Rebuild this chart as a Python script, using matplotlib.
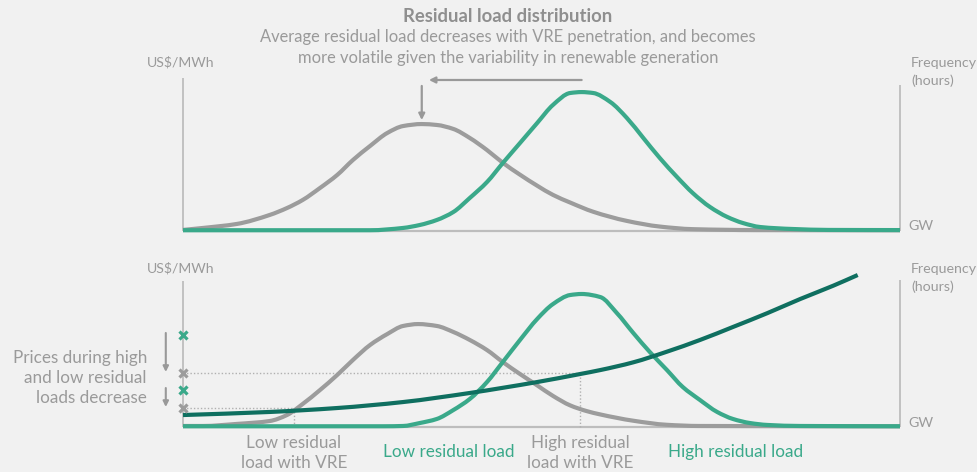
import matplotlib
matplotlib.use("Agg")
import matplotlib.pyplot as plt
from matplotlib.path import Path
from matplotlib.patches import PathPatch

plt.rcParams['font.family'] = ['Lato', 'DejaVu Sans']

# ---------------- data (arbitrary units: GW 0-100, frequency/price 0-100) -------------
# Top panel: residual load distributions
top_gray_x = [0, 2.8, 7.5, 12.1, 14.5, 16.7, 19.1, 21.5, 23.7, 26.1, 28.5, 30.7, 33.3, 35.4,
              37.7, 40.0, 42.4, 44.6, 47.0, 49.4, 51.6, 54.0, 57.2, 61.9, 66.5, 71.1, 80.0, 100]
top_gray_y = [0.7, 2.0, 4.6, 10.5, 15.0, 20.3, 28.1, 36.6, 46.4, 55.6, 64.1, 68.6, 69.9, 69.3,
              66.7, 60.8, 52.9, 44.6, 36.8, 29.6, 23.6, 18.6, 12.6, 6.6, 2.9, 1.2, 0.6, 0.5]
top_green_x = [0, 26.1, 30.7, 33.0, 35.4, 37.7, 40.0, 42.4, 44.6, 47.0, 49.4, 51.6, 54.0, 55.6,
               57.2, 59.6, 61.9, 64.2, 66.5, 68.9, 71.1, 73.5, 75.9, 78.1, 80.5, 85.1, 90.0, 100]
top_green_y = [0.5, 0.5, 2.0, 3.9, 7.2, 12.4, 21.6, 32.0, 44.4, 57.5, 70.6, 82.4, 90.2, 90.8,
               90.2, 84.3, 73.9, 60.8, 47.7, 35.3, 24.8, 15.7, 9.2, 5.2, 2.6, 1.3, 0.7, 0.6]

# Bottom panel: distributions + price (merit order) curve
bot_gray_x = [0, 2.8, 7.5, 12.1, 14.5, 16.7, 19.1, 21.5, 23.7, 26.1, 28.5, 30.7, 32.8, 35.4,
              37.7, 40.0, 42.4, 44.6, 47.0, 49.4, 51.6, 54.0, 56.3, 58.2, 62.8, 67.5, 72.0, 100]
bot_gray_y = [0.7, 0.7, 2.1, 4.1, 8.2, 15.8, 25.3, 35.6, 45.9, 56.2, 63.7, 69.2, 70.5, 69.2,
              65.1, 59.6, 52.7, 44.5, 36.3, 28.5, 21.3, 14.8, 10.9, 8.6, 4.3, 1.5, 0.7, 0.5]
bot_green_x = [0, 28.0, 30.7, 33.0, 35.4, 37.7, 40.0, 42.4, 44.6, 47.0, 49.4, 51.6, 54.0, 55.6,
               58.2, 60.5, 62.8, 65.1, 67.5, 69.7, 72.1, 74.5, 76.7, 79.1, 81.5, 86.1, 100]
bot_green_y = [0.5, 0.5, 0.7, 2.7, 5.5, 11.6, 19.2, 30.8, 44.5, 59.6, 74.0, 84.2, 90.4, 91.1,
               89.0, 78.1, 64.4, 51.4, 39.0, 27.4, 18.5, 10.3, 5.5, 2.7, 1.4, 0.7, 0.5]
price_x = [0, 12.1, 21.5, 30.7, 40.0, 49.4, 55.4, 58.2, 62.8, 67.5, 72.1, 76.7, 81.5, 86.1,
           90.7, 94.1]
price_y = [8.2, 10.3, 13.0, 17.1, 23.3, 30.8, 36.3, 39.0, 44.3, 51.6, 59.6, 68.5, 78.0, 87.7,
           96.8, 104.1]

# reference points (load, price)
low_vre_load, low_vre_price = 15.5, 13.0
high_vre_load, high_vre_price = 55.4, 37.0
green_prices = [63.0, 25.3]     # prices without VRE (high, low)
gray_prices = [high_vre_price, low_vre_price]

# ---------------- styling ----------------
BG = '#f1f1f1'
GRAY = '#9c9c9c'
AXC = '#bdbdbd'
GREEN = '#3aa98a'
DKGREEN = '#0f6f60'
TXT = '#9a9a9a'

W, H = 978, 472
fig = plt.figure(figsize=(W / 100, H / 100), dpi=100, facecolor=BG)


def ax_at(x0, baseline, top, x1):
    return fig.add_axes([x0 / W, 1 - baseline / H, (x1 - x0) / W, (baseline - top) / H])


def px(x, y):
    return x / W, 1 - y / H


def smooth_line(ax, xs, ys, color, lw=3.0, z=3):
    """Draw a smooth (monotone cubic Hermite / Bezier) line through the given points."""
    n = len(xs)
    h = [xs[k + 1] - xs[k] for k in range(n - 1)]
    d = [(ys[k + 1] - ys[k]) / h[k] for k in range(n - 1)]
    m = [0.0] * n
    m[0], m[-1] = d[0], d[-1]
    for k in range(1, n - 1):
        if d[k - 1] * d[k] <= 0:
            m[k] = 0.0
        else:
            w1 = 2 * h[k] + h[k - 1]
            w2 = h[k] + 2 * h[k - 1]
            m[k] = (w1 + w2) / (w1 / d[k - 1] + w2 / d[k])
    verts = [(xs[0], ys[0])]
    codes = [Path.MOVETO]
    for k in range(n - 1):
        verts += [(xs[k] + h[k] / 3, ys[k] + m[k] * h[k] / 3),
                  (xs[k + 1] - h[k] / 3, ys[k + 1] - m[k + 1] * h[k] / 3),
                  (xs[k + 1], ys[k + 1])]
        codes += [Path.CURVE4] * 3
    patch = PathPatch(Path(verts, codes), facecolor='none', edgecolor=color, lw=lw,
                      capstyle='butt', joinstyle='round', zorder=z, clip_on=False)
    ax.add_patch(patch)


ax1 = ax_at(183, 231, 78, 900)
ax2 = ax_at(183, 427, 281, 900)
for ax in (ax1, ax2):
    ax.set_xlim(0, 100)
    ax.set_ylim(0, 100)
    ax.axis('off')
    ax.set_facecolor(BG)

# axes lines
for ax, rtop in ((ax1, 95.4), (ax2, 100.7)):
    ax.plot([0, 0], [0, 100], color=AXC, lw=1.3, clip_on=False, solid_capstyle='butt')
    ax.plot([100, 100], [0, rtop], color=AXC, lw=1.3, clip_on=False, solid_capstyle='butt')
    ax.plot([0, 100], [0, 0], color=AXC, lw=1.6, clip_on=False, solid_capstyle='butt')

smooth_line(ax1, top_gray_x, top_gray_y, GRAY, z=3)
smooth_line(ax1, top_green_x, top_green_y, GREEN, z=4)

# top arrows: from green peak to gray peak
gpk = top_green_x[top_green_y.index(max(top_green_y))]
ypk_i = top_gray_y.index(max(top_gray_y))
gx, gy = top_gray_x[ypk_i], top_gray_y[ypk_i]
arw = dict(arrowstyle='-|>', color='#999999', lw=1.6, mutation_scale=9, shrinkA=0, shrinkB=0)
ax1.annotate('', xy=(gx + 1.0, 98.7), xytext=(gpk, 98.7), arrowprops=arw, annotation_clip=False)
ax1.annotate('', xy=(gx, gy + 2.6), xytext=(gx, 94.8), arrowprops=arw, annotation_clip=False)

# bottom panel
smooth_line(ax2, bot_gray_x, bot_gray_y, GRAY, z=3)
smooth_line(ax2, bot_green_x, bot_green_y, GREEN, z=4)
smooth_line(ax2, price_x, price_y, DKGREEN, z=5)

dot = dict(color='#b0b0b0', lw=1.0, ls=(0, (1, 1.5)), clip_on=False, zorder=2)
ax2.plot([0, high_vre_load], [high_vre_price, high_vre_price], **dot)
ax2.plot([high_vre_load, high_vre_load], [0, high_vre_price], **dot)
ax2.plot([0, low_vre_load], [low_vre_price, low_vre_price], **dot)
ax2.plot([low_vre_load, low_vre_load], [0, low_vre_price], **dot)

ax2.plot([0] * len(green_prices), green_prices, ls='none', marker='x', ms=5.5, mew=2.3,
         color=GREEN, clip_on=False, zorder=6)
ax2.plot([0] * len(gray_prices), gray_prices, ls='none', marker='x', ms=5.5, mew=2.3,
         color=GRAY, clip_on=False, zorder=6)

arw2 = dict(arrowstyle='-|>', color='#999999', lw=1.5, mutation_scale=8, shrinkA=0, shrinkB=0)
for gp, yp in zip(green_prices, gray_prices):
    ax2.annotate('', xy=(-2.4, yp + 0.7), xytext=(-2.4, gp + 1.4), arrowprops=arw2,
                 annotation_clip=False)

# ---------------- texts ----------------
fig.text(*px(508, 17), 'Residual load distribution', ha='center', va='center',
         fontsize=13.3, fontweight='bold', color='#8f8f8f')
fig.text(*px(508, 37), 'Average residual load decreases with VRE penetration, and becomes',
         ha='center', va='center', fontsize=11.9, color=TXT)
fig.text(*px(508, 58), 'more volatile given the variability in renewable generation',
         ha='center', va='center', fontsize=11.9, color=TXT)

for yy in (62, 268):
    fig.text(*px(181, yy), 'US$/MWh', ha='center', va='center', fontsize=10.1, color=TXT)
for yy in (63, 269):
    fig.text(*px(911, yy), 'Frequency', ha='left', va='center', fontsize=10.3, color=TXT)
    fig.text(*px(911, yy + 18), '(hours)', ha='left', va='center', fontsize=10.3, color=TXT)
for yy in (226, 423):
    fig.text(*px(908, yy), 'GW', ha='left', va='center', fontsize=10.3, color=TXT)

for i, line in enumerate(['Prices during high', 'and low residual', 'loads decrease']):
    fig.text(*px(147, 358 + 20 * i), line, ha='right', va='center', fontsize=12.3, color=TXT)

bl = 12.3
fig.text(*px(294, 443), 'Low residual', ha='center', va='center', fontsize=bl, color=TXT)
fig.text(*px(294, 463), 'load with VRE', ha='center', va='center', fontsize=bl, color=TXT)
fig.text(*px(580, 443), 'High residual', ha='center', va='center', fontsize=bl, color=TXT)
fig.text(*px(580, 463), 'load with VRE', ha='center', va='center', fontsize=bl, color=TXT)
fig.text(*px(449, 452), 'Low residual load', ha='center', va='center', fontsize=bl, color=GREEN)
fig.text(*px(736, 452), 'High residual load', ha='center', va='center', fontsize=bl, color=GREEN)

fig.savefig('out.png', dpi=100, facecolor=BG)
